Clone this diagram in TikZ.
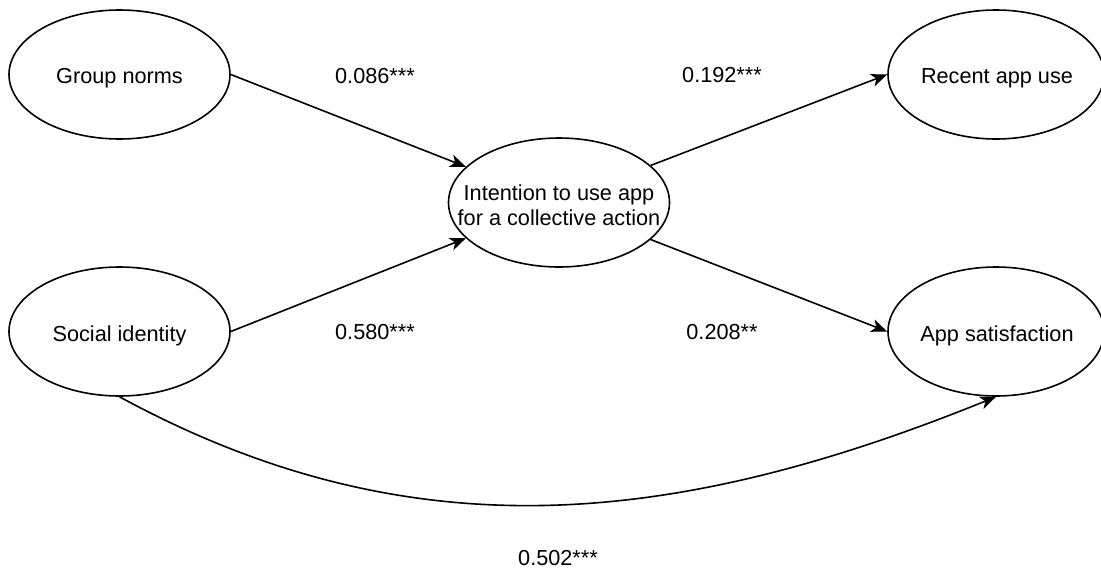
\documentclass[tikz,border=0pt]{standalone}
\usepackage{fontspec}
\setmainfont{Liberation Sans}
\usetikzlibrary{shapes.geometric,arrows.meta}

\begin{document}
\begin{tikzpicture}[x=1pt,y=-1pt,
  font=\fontsize{21.7}{25}\selectfont,
  construct/.style={ellipse, draw=black, line width=1.6pt, fill=white,
    minimum width=221pt, minimum height=129pt, inner sep=0pt},
  name text/.style={yshift=-4pt},
  link/.style={draw=black, line width=1.6pt,
    -{Stealth[length=16pt,width=13pt,inset=4.5pt]}},
  coef/.style={inner sep=0pt}
]
\useasboundingbox (0,0) rectangle (1101,571);
\clip (0,0) rectangle (1101,571);
\fill[white] (0,0) rectangle (1101,571);

% latent constructs
\node[construct, label={[name text]center:Group norms}] (gn) at (119.5,74.5) {};
\node[construct, label={[name text]center:Social identity}] (si) at (119.5,331.5) {};
\node[construct, label={[align=center, yshift=-2.5pt]center:{Intention to use app\\for a collective action}}] (int) at (559,202.5) {};
\node[construct, minimum width=216pt, label={[name text, xshift=1pt]center:Recent app use}] (rec) at (996,74.5) {};
\node[construct, minimum width=216pt, label={[name text, xshift=1pt]center:App satisfaction}] (as) at (996,331.5) {};

% structural paths
\draw[link] (gn.east) -- (int.159);
\draw[link] (si.east) -- (int.201);
\draw[link] (int.22) -- (rec.west);
\draw[link] (int.338) -- (as.west);
\draw[link] (si.south) .. controls (409,554) and (672,528) .. (as.south);

% path coefficients
\node[coef] (c1) at (375,76) {0.086***};
\node[coef] (c2) at (722,75) {0.192***};
\node[coef] (c3) at (375,332) {0.580***};
\node[coef] (c4) at (722,332) {0.208**};
\node[coef] (c5) at (558,558) {0.502***};
\end{tikzpicture}
\end{document}
